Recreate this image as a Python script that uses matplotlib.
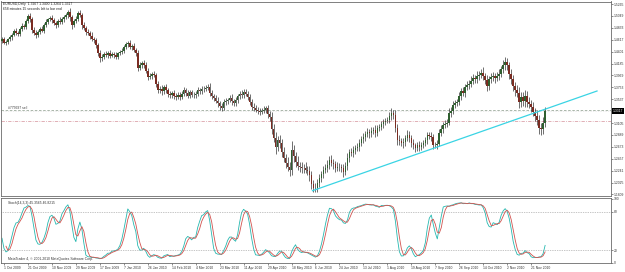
import numpy as np
import pandas as pd
import matplotlib
matplotlib.use("Agg")
import matplotlib.pyplot as plt
from matplotlib import transforms

# EURUSD daily, closes in 1/10000 units. Bar 0 = 1 Oct 2009, bars before it are off screen
first_bar = -16
first_open = 14480
closes = [
    14520, 14570, 14620, 14590, 14640, 14700, 14720, 14740, 14710, 14770, 14820, 14790, 14730, 14680, 14600, 14630,
    14560, 14575, 14630, 14660, 14710, 14770, 14740, 14720, 14820, 14870, 14850, 14960,
    15045, 14990, 14800, 14745, 14700, 14760, 14810, 14780, 14880, 14940, 14985, 15010,
    14970, 14920, 14880, 14960, 14940, 14990, 15030, 15060, 15120, 15020, 14880, 14950,
    15000, 15100, 15070, 14880, 14830, 14760, 14740, 14690, 14630, 14610, 14520, 14380,
    14280, 14310, 14360, 14340, 14380, 14330, 14360, 14340, 14310, 14370, 14390, 14420,
    14480, 14530, 14560, 14490, 14510, 14430, 14380, 14110, 14160, 14200, 14160, 14050,
    13940, 13960, 13990, 13980, 13820, 13700, 13730, 13680, 13760, 13700, 13640, 13610,
    13650, 13590, 13580, 13620, 13580, 13640, 13700, 13650, 13600, 13660, 13620, 13610,
    13640, 13700, 13680, 13720, 13730, 13740, 13760, 13650, 13590, 13560, 13510, 13460,
    13420, 13380, 13480, 13500, 13520, 13560, 13500, 13460, 13520, 13600, 13640, 13610,
    13670, 13640, 13580, 13490, 13400, 13380, 13350, 13320, 13310, 13330, 13350, 13370,
    13260, 13220, 13000, 12840, 12670, 12790, 12740, 12580, 12470, 12380, 12310, 12250,
    12620, 12500, 12400, 12330, 12310, 12280, 12290, 12260, 12240, 12160, 12000, 11930,
    11930, 12010, 12110, 12180, 12250, 12290, 12350, 12440, 12380, 12360, 12290, 12310,
    12310, 12280, 12220, 12330, 12470, 12580, 12560, 12620, 12650, 12670, 12740, 12810,
    12850, 12900, 12940, 12920, 12960, 12980, 12930, 13010, 13030, 13080, 13120, 13150,
    13160, 13230, 13290, 13250, 13010, 12800, 12780, 12740, 12760, 12830, 12890, 12830,
    12740, 12700, 12650, 12700, 12670, 12710, 12740, 12790, 12890, 12870, 12850, 12710,
    12710, 12730, 12930, 13000, 13070, 13090, 13110, 13290, 13330, 13430, 13470, 13490,
    13600, 13680, 13650, 13760, 13800, 13820, 13870, 13920, 13900, 13960, 13980, 14020,
    13950, 13890, 13780, 13900, 13940, 13950, 13920, 13960, 14000, 14080, 14150, 14210,
    14150, 14000, 13900, 13780, 13700, 13650, 13490, 13580, 13500, 13600, 13490, 13450,
    13400, 13310, 13240, 13160, 13020, 12990, 13110, 13317,
]
# wick lengths in pips above the body top / below the body bottom
upper_wick = [
    40, 35, 50, 30, 45, 40, 35, 50, 45, 40, 55, 35, 40, 50, 45, 35,
    35, 40, 25, 50, 30, 45, 60, 35, 30, 55, 40, 35,
    40, 60, 35, 50, 45, 30, 40, 55, 35, 45, 30, 40,
    50, 35, 45, 30, 60, 40, 35, 45, 30, 70, 40, 35,
    45, 40, 55, 35, 50, 40, 45, 30, 60, 35, 45, 40,
    50, 40, 35, 45, 30, 55, 40, 35, 45, 30, 40, 50,
    35, 45, 40, 60, 35, 50, 40, 45, 55, 35, 40, 50,
    45, 60, 40, 55, 35, 50, 45, 60, 40, 55, 45, 50,
    40, 55, 60, 45, 50, 40, 55, 45, 60, 40, 50, 45,
    40, 55, 45, 60, 40, 50, 45, 70, 50, 45, 55, 60,
    50, 45, 60, 55, 40, 50, 65, 45, 55, 40, 50, 60,
    45, 60, 50, 55, 45, 60, 50, 40, 55, 45, 60, 50,
    70, 60, 80, 90, 110, 80, 100, 70, 90, 80, 100, 90,
    160, 90, 80, 100, 70, 90, 80, 100, 70, 90, 80, 70,
    90, 80, 70, 60, 80, 70, 90, 60, 80, 70, 60, 80,
    70, 60, 80, 70, 90, 60, 80, 70, 60, 80, 70, 60,
    70, 60, 80, 50, 70, 60, 80, 50, 60, 70, 60, 50,
    60, 70, 80, 60, 90, 70, 80, 60, 70, 60, 80, 70,
    60, 70, 50, 60, 70, 50, 60, 70, 60, 50, 70, 60,
    50, 60, 70, 60, 50, 70, 60, 80, 60, 70, 60, 50,
    70, 60, 80, 60, 70, 60, 80, 70, 60, 80, 70, 60,
    100, 70, 80, 60, 70, 80, 60, 70, 80, 60, 90, 100,
    80, 70, 90, 80, 70, 90, 100, 80, 90, 100, 80, 90,
    80, 90, 70, 100, 90, 80, 100, 70,
]
lower_wick = [
    35, 45, 30, 50, 40, 35, 45, 30, 40, 50, 35, 45, 60, 40, 55, 40,
    30, 45, 35, 40, 55, 30, 45, 40, 35, 50, 30, 45,
    35, 45, 60, 40, 55, 35, 45, 30, 50, 40, 45, 35,
    45, 40, 55, 35, 45, 30, 50, 40, 45, 55, 60, 40,
    35, 45, 40, 60, 45, 50, 40, 55, 45, 60, 50, 55,
    60, 45, 50, 40, 55, 45, 35, 50, 40, 45, 35, 40,
    45, 40, 50, 35, 55, 45, 60, 70, 45, 50, 55, 45,
    60, 45, 50, 40, 70, 55, 45, 60, 50, 45, 55, 60,
    50, 45, 55, 40, 60, 45, 50, 55, 40, 50, 45, 55,
    45, 50, 40, 55, 45, 50, 40, 60, 55, 50, 45, 60,
    70, 60, 45, 50, 55, 40, 60, 55, 45, 50, 55, 45,
    50, 45, 60, 55, 50, 60, 45, 55, 60, 50, 45, 55,
    60, 70, 90, 80, 120, 70, 90, 100, 80, 90, 70, 100,
    80, 100, 90, 70, 100, 80, 90, 70, 80, 100, 90, 80,
    70, 80, 60, 70, 80, 60, 70, 80, 60, 90, 70, 60,
    80, 70, 90, 60, 70, 80, 60, 70, 80, 60, 70, 60,
    60, 70, 50, 80, 60, 50, 70, 60, 50, 60, 70, 60,
    50, 60, 70, 80, 60, 90, 70, 60, 80, 70, 60, 70,
    70, 60, 80, 60, 70, 60, 50, 60, 70, 60, 80, 70,
    60, 70, 50, 60, 70, 50, 60, 50, 70, 60, 50, 60,
    60, 70, 60, 80, 60, 70, 60, 50, 70, 60, 80, 60,
    70, 80, 100, 70, 60, 70, 80, 60, 70, 60, 70, 80,
    90, 100, 80, 90, 100, 80, 110, 90, 80, 100, 90, 80,
    90, 80, 100, 90, 110, 100, 80, 70,
]

date_labels = ["1 Oct 2009", "21 Oct 2009", "10 Nov 2009", "29 Nov 2009", "17 Dec 2009",
               "7 Jan 2010", "26 Jan 2010", "14 Feb 2010", "4 Mar 2010", "23 Mar 2010",
               "11 Apr 2010", "29 Apr 2010", "18 May 2010", "6 Jun 2010", "24 Jun 2010",
               "13 Jul 2010", "1 Aug 2010", "19 Aug 2010", "7 Sep 2010", "26 Sep 2010",
               "14 Oct 2010", "2 Nov 2010", "21 Nov 2010"]
date_label_bars = list(range(0, 12 * len(date_labels), 12))

price_ticks = [1.5265, 1.5049, 1.4833, 1.4617, 1.4401, 1.4185, 1.3969, 1.3753, 1.3537,
               1.3321, 1.3105, 1.2889, 1.2673, 1.2457, 1.2241, 1.2025, 1.1809]
stoch_ticks = [0, 20, 80, 100]
stoch_levels = [20, 80]

bid_price = 1.3317
order_price = 1.3335
stop_price = 1.3141
trend_bars = [154.5, 297]
trend_prices = [1.1876, 1.3686]

header = ["EURUSD,Daily  1.3267 1.3400 1.3264 1.3317",
          "658 minutes 15 seconds left to bar end"]
order_label = "#775697 sell"
stoch_label = "Stoch(14,3,3) 45.3565 46.8215"
credit = "MetaTrader 4, \u00a9 2001-2010 MetaQuotes Software Corp."

# ---- build OHLC ----
c = np.array(closes) / 10000.0
o = np.concatenate([[first_open / 10000.0], c[:-1]])
h = np.maximum(o, c) + np.array(upper_wick) / 10000.0
l = np.minimum(o, c) - np.array(lower_wick) / 10000.0
x = np.arange(len(c)) + first_bar

# stochastic 14,3,3 (MT4 style slowing)
df = pd.DataFrame({"h": h, "l": l, "c": c})
ll = df["l"].rolling(14).min()
hh = df["h"].rolling(14).max()
k = 100 * (df["c"] - ll).rolling(3).sum() / (hh - ll).rolling(3).sum()
d = k.rolling(3).mean()

plt.rcParams["font.family"] = ["Liberation Sans", "DejaVu Sans"]
FS = 2.4
W, H = 625, 272


def px_box(x0, y0, x1, y1):
    return [x0 / W, 1 - y1 / H, (x1 - x0) / W, (y1 - y0) / H]


fig = plt.figure(figsize=(W / 100, H / 100), dpi=100)
ax = fig.add_axes(px_box(1, 1.5, 611, 196))
axs = fig.add_axes(px_box(1, 197.5, 611, 263), sharex=ax)

# candles
up = c >= o
body_col = np.where(up, "#2f5f2f", "#7a2c22")
ax.vlines(x, l, h, color="#1e1e1e", lw=0.45, zorder=2)
ax.bar(x, np.maximum(np.abs(c - o), 0.0004), bottom=np.minimum(o, c), width=0.8,
       color=body_col, edgecolor="none", zorder=3)

# order / stop / trend lines
ax.axhline(order_price, color="#9cab9c", lw=0.6, ls=(0, (3, 2)), zorder=1)
ax.axhline(bid_price, color="#c8c8c8", lw=0.4, ls=(0, (1, 2)), zorder=1)
ax.axhline(stop_price, color="#dca2aa", lw=0.6, ls=(0, (4, 1.5, 1, 1.5)), zorder=1)
ax.plot(trend_bars, trend_prices, color="#3ad4e4", lw=0.9, zorder=4)
ax.text(2, order_price + 0.0012, order_label, fontsize=FS, color="#3a3a3a", va="bottom", ha="left")

ax.set_xlim(-1.5, 304)
ax.set_ylim(1.5265 - (196 - 4) * 0.001815, 1.5265 + (4 - 1.5) * 0.001815)
ax.yaxis.tick_right()
ax.set_yticks(price_ticks)
ax.set_yticklabels([f"{p:.4f}" for p in price_ticks])
ax.tick_params(axis="y", labelsize=FS, length=1.5, width=0.4, pad=0.6, colors="#333333")
ax.tick_params(axis="x", bottom=False, labelbottom=False)

tr = transforms.blended_transform_factory(ax.transAxes, ax.transData)
ax.text(1.003, bid_price, f"{bid_price:.4f}", transform=tr, fontsize=FS, color="white",
        va="center", ha="left", clip_on=False, zorder=10,
        bbox=dict(boxstyle="square,pad=0.25", fc="black", ec="none"))

# stochastic panel
axs.plot(x, k, color="#26b8b0", lw=0.6)
axs.plot(x, d, color="#d2524e", lw=0.6)
for lev in stoch_levels:
    axs.axhline(lev, color="#8c8c8c", lw=0.5, ls=(0, (1, 1.5)))
axs.set_ylim(0, 102.3)
axs.yaxis.tick_right()
axs.set_yticks(stoch_ticks)
axs.set_yticklabels([str(t) for t in stoch_ticks])
axs.tick_params(axis="y", labelsize=FS, length=1.5, width=0.4, pad=0.6, colors="#333333")
axs.set_xticks(date_label_bars)
axs.set_xticklabels(date_labels)
axs.tick_params(axis="x", labelsize=FS, length=1.5, width=0.4, pad=0.6, colors="#333333")
for lbl in axs.get_xticklabels():
    lbl.set_ha("left")
axs.text(2, 97, stoch_label, fontsize=FS, color="#333333", va="top", ha="left")
axs.text(2, 3, credit, fontsize=FS, color="#333333", va="bottom", ha="left")

for a in (ax, axs):
    for s in a.spines.values():
        s.set_color("#6a6a6a")
        s.set_linewidth(0.6)

fig.text(3 / W, 1 - 4 / H, header[0], fontsize=FS, color="#222222", va="center", ha="left")
fig.text(3 / W, 1 - 9 / H, header[1], fontsize=FS, color="#222222", va="center", ha="left")

fig.savefig("out.png", dpi=100, facecolor="white")
